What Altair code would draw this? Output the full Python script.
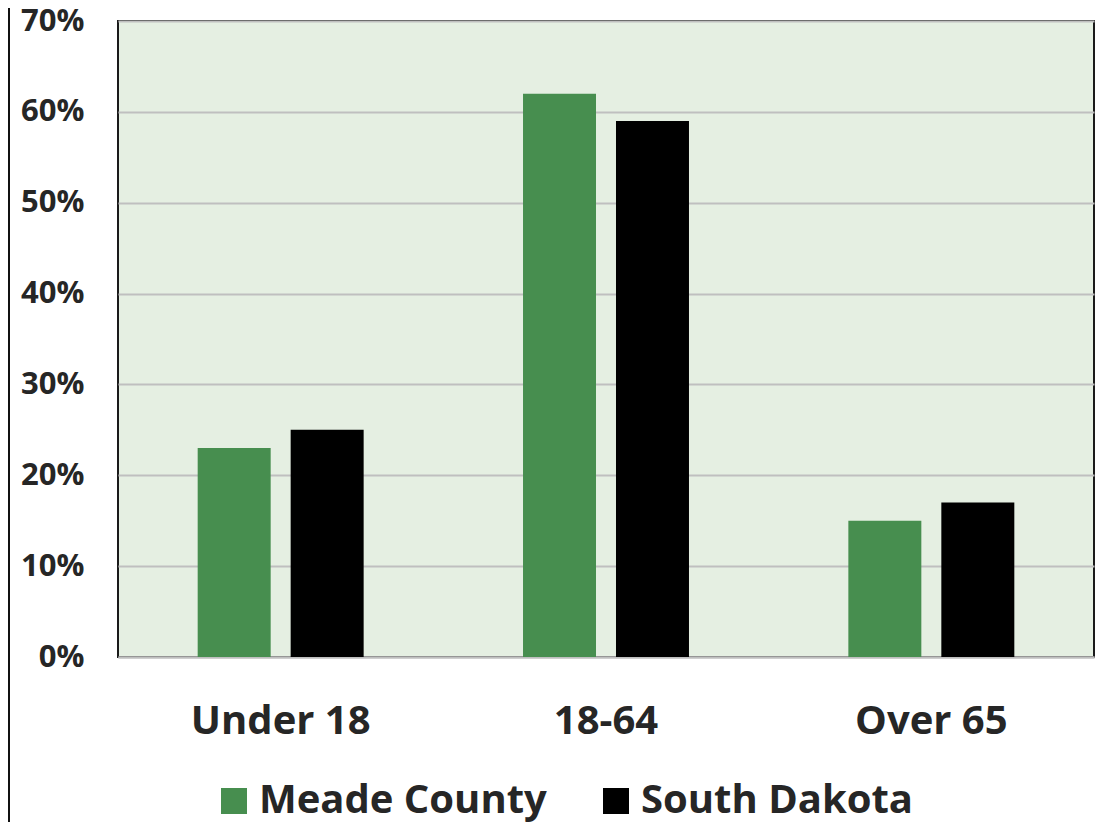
import altair as alt
import pandas as pd

categories = ["Under 18", "18-64", "Over 65"]
series = ["Meade County", "South Dakota"]
meade = [0.23, 0.62, 0.15]
sd = [0.25, 0.59, 0.17]
colors = ["#478E4F", "#000000"]

rows = []
for i, c in enumerate(categories):
    rows.append({"cat": c, "series": series[0], "value": meade[i]})
    rows.append({"cat": c, "series": series[1], "value": sd[i]})
df = pd.DataFrame(rows)

FONT = "Open Sans"
TXT = "#262626"

bars = alt.Chart(df).mark_bar().encode(
    x=alt.X("cat:N", sort=categories,
            scale=alt.Scale(paddingInner=0, paddingOuter=0),
            axis=alt.Axis(title=None, labelAngle=0, ticks=False, domain=True,
                          domainColor="#BFBFBF", domainWidth=2,
                          labelFont=FONT, labelFontSize=40, labelFontWeight="bold",
                          labelColor=TXT, labelPadding=44)),
    xOffset=alt.XOffset("series:N", sort=series,
                        scale=alt.Scale(paddingInner=0.215, paddingOuter=0.857)),
    y=alt.Y("value:Q", scale=alt.Scale(domain=[0, 0.7]),
            axis=alt.Axis(title=None, format=".0%", values=[0, .1, .2, .3, .4, .5, .6, .7],
                          ticks=False, domain=False, grid=True, gridColor="#BFBFBF",
                          gridWidth=2, labelFont=FONT, labelFontSize=31,
                          labelFontWeight="bold", labelColor=TXT, labelPadding=34)),
    color=alt.Color("series:N", sort=series,
                    scale=alt.Scale(domain=series, range=colors),
                    legend=alt.Legend(title=None, orient="none", legendX=96, legendY=760,
                                      direction="horizontal", symbolType="square",
                                      symbolSize=676, symbolStrokeWidth=0,
                                      labelFont=FONT, labelFontSize=40,
                                      labelFontWeight="bold", labelColor=TXT,
                                      labelOffset=5, columnPadding=49, padding=0,
                                      labelLimit=600)),
)

edge = alt.Chart(pd.DataFrame({"a": [0]})).mark_rule(color="#111111", strokeWidth=2).encode(
    x=alt.value(-109), y=alt.value(-13), y2=alt.value(801)
)

chart = alt.layer(bars, edge).properties(
    width=976, height=636,
    autosize=alt.AutoSizeParams(type="none"),
    padding={"left": 110, "top": 13, "right": 4, "bottom": 165},
    background="white",
).configure_view(fill="#E5EFE2", stroke="#1A1A1A", strokeWidth=2)

chart.save("out.html", embed_options={"renderer": "svg", "actions": False})
